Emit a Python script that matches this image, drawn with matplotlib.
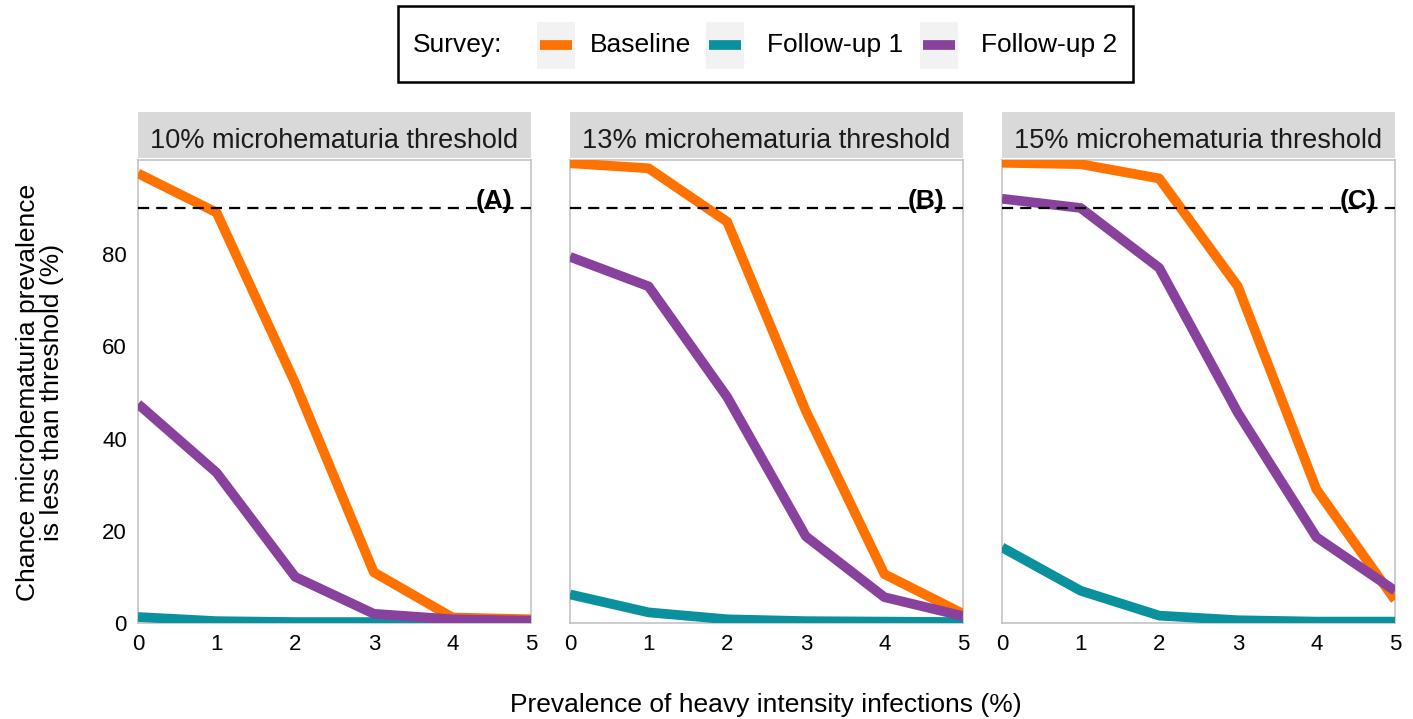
import matplotlib.pyplot as plt
from matplotlib.patches import Rectangle
from matplotlib.lines import Line2D

plt.rcParams['font.family'] = ['Liberation Sans', 'DejaVu Sans']

# 数据
heavy_prev = [0, 1, 2, 3, 4, 5]
panel_titles = ['10% microhematuria threshold',
                '13% microhematuria threshold',
                '15% microhematuria threshold']
panel_tags = ['(A)', '(B)', '(C)']
surveys = ['Baseline', 'Follow-up 1', 'Follow-up 2']

baseline = [
    [97.5, 89, 52, 11, 1.2, 0.8],
    [99.7, 98.6, 87, 46, 10.6, 2],
    [99.8, 99.5, 96.4, 73, 29, 5],
]
followup1 = [
    [1.3, 0.4, 0.2, 0.2, 0.2, 0.2],
    [6.2, 2.3, 0.8, 0.4, 0.3, 0.2],
    [16.4, 7, 1.6, 0.6, 0.3, 0.3],
]
followup2 = [
    [47.5, 32.6, 10, 2, 0.8, 0.5],
    [79.4, 73, 49, 18.8, 5.6, 1.5],
    [92, 90, 77, 45.6, 18.6, 7],
]
threshold_line = 90
y_ticks = [0, 20, 40, 60, 80]

colors = {'Baseline': '#FF7200', 'Follow-up 1': '#0A919E', 'Follow-up 2': '#88419D'}
series = {'Baseline': baseline, 'Follow-up 1': followup1, 'Follow-up 2': followup2}

W, H = 1413, 719
fig = plt.figure(figsize=(W / 100, H / 100), dpi=100)

lefts = [138, 570, 1002]
ax_w, ax_top, ax_bot = 393, 160, 623
ax_h = ax_bot - ax_top

for i, left in enumerate(lefts):
    ax = fig.add_axes([left / W, 1 - ax_bot / H, ax_w / W, ax_h / H])
    for name in surveys:
        ax.plot(heavy_prev, series[name][i], color=colors[name], lw=7,
                solid_capstyle='butt', zorder=3)
    ax.axhline(threshold_line, color='black', lw=1.6, linestyle=(0, (5, 3.2)), zorder=4)
    ax.text(4.76, 90.0, panel_tags[i], ha='right', va='baseline',
            fontsize=19, fontweight='bold', zorder=5)
    ax.set_xlim(0, 5)
    ax.set_ylim(0, 100.4)
    ax.set_xticks(heavy_prev)
    ax.set_yticks(y_ticks)
    ax.tick_params(length=0, labelsize=16, pad=8)
    if i > 0:
        ax.set_yticklabels([])
    for sp in ax.spines.values():
        sp.set_color('#C4C4C4')
        sp.set_linewidth(1.2)
    # strip header
    s0 = (ax_bot - 158) / ax_h
    s1 = (ax_bot - 112) / ax_h
    ax.add_patch(Rectangle((0, s0), 1, s1 - s0, transform=ax.transAxes,
                           facecolor='#D9D9D9', edgecolor='none', clip_on=False))
    ax.text(0.5, (ax_bot - 148) / ax_h, panel_titles[i], transform=ax.transAxes,
            ha='center', va='baseline', fontsize=19.5, color='#1A1A1A')

# axis labels
fig.text(40 / W, 1 - 392 / H, 'Chance microhematuria prevalence\nis less than threshold (%)',
         rotation=90, ha='center', va='center', multialignment='center',
         fontsize=19, linespacing=1.0)
fig.text(766 / W, 1 - 705 / H, 'Prevalence of heavy intensity infections (%)',
         ha='center', va='center', fontsize=19)

# legend drawn by hand
fig.patches.append(Rectangle((398 / W, 1 - 82 / H), (1133 - 398) / W, 76 / H,
                             transform=fig.transFigure, facecolor='white',
                             edgecolor='black', lw=1.8))
cy = 1 - 45 / H
fig.text(413 / W, cy, 'Survey:', ha='left', va='center', fontsize=19)
key_x = [537, 706, 920]
text_x = [590, 767, 981]
for name, kx, tx in zip(surveys, key_x, text_x):
    fig.patches.append(Rectangle((kx / W, 1 - 69 / H), 38 / W, 47 / H,
                                 transform=fig.transFigure, facecolor='#F2F2F2',
                                 edgecolor='none'))
    fig.lines.append(Line2D([(kx + 3) / W, (kx + 35) / W], [cy, cy],
                            transform=fig.transFigure, color=colors[name],
                            lw=7, solid_capstyle='butt'))
    fig.text(tx / W, cy, name, ha='left', va='center', fontsize=19)

fig.savefig('out.png', dpi=100)
